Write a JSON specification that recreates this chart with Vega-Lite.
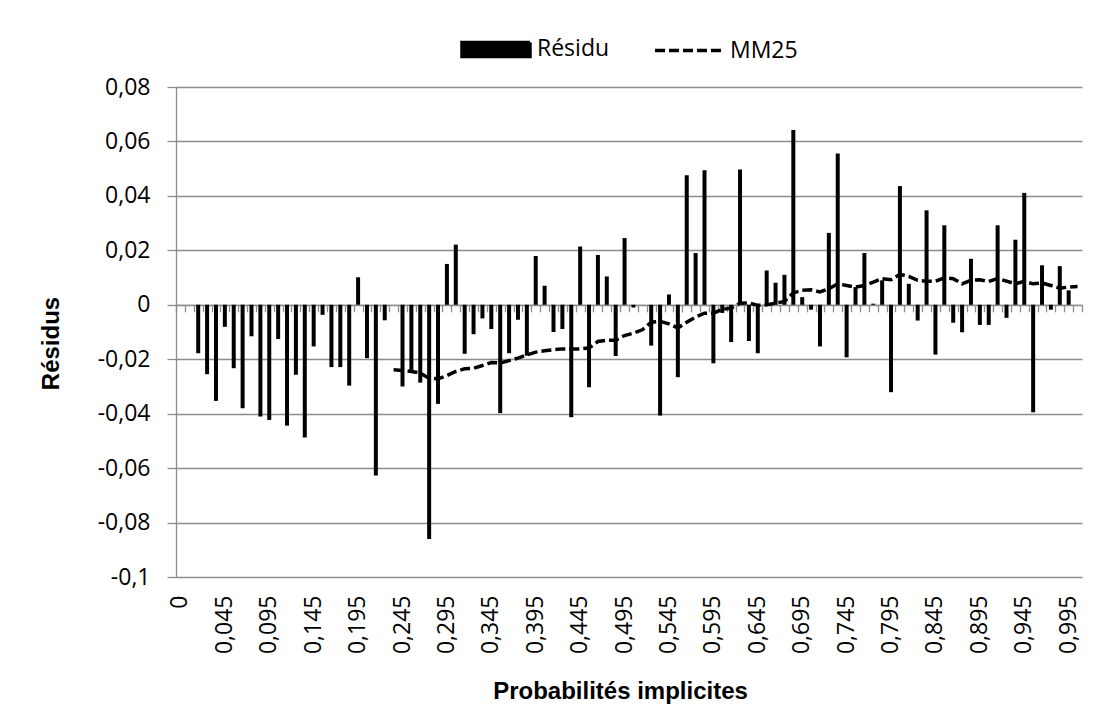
{
  "$schema": "https://vega.github.io/schema/vega-lite/v6.json",
  "width": 906,
  "height": 490,
  "autosize": {"type": "none"},
  "padding": {"left": 176, "top": 87, "right": 33, "bottom": 147},
  "background": "white",
  "data": {"values": [
    {"p": "0", "res": 0, "mm": null},
    {"p": "0,005", "res": 0, "mm": null},
    {"p": "0,015", "res": -0.0178, "mm": null},
    {"p": "0,025", "res": -0.0255, "mm": null},
    {"p": "0,035", "res": -0.0353, "mm": null},
    {"p": "0,045", "res": -0.0081, "mm": null},
    {"p": "0,055", "res": -0.0233, "mm": null},
    {"p": "0,065", "res": -0.038, "mm": null},
    {"p": "0,075", "res": -0.0116, "mm": null},
    {"p": "0,085", "res": -0.041, "mm": null},
    {"p": "0,095", "res": -0.0423, "mm": null},
    {"p": "0,105", "res": -0.0126, "mm": null},
    {"p": "0,115", "res": -0.0444, "mm": null},
    {"p": "0,125", "res": -0.0257, "mm": null},
    {"p": "0,135", "res": -0.0488, "mm": null},
    {"p": "0,145", "res": -0.0153, "mm": null},
    {"p": "0,155", "res": -0.0037, "mm": null},
    {"p": "0,165", "res": -0.0229, "mm": null},
    {"p": "0,175", "res": -0.0229, "mm": null},
    {"p": "0,185", "res": -0.0297, "mm": null},
    {"p": "0,195", "res": 0.0101, "mm": null},
    {"p": "0,205", "res": -0.0196, "mm": null},
    {"p": "0,215", "res": -0.0627, "mm": null},
    {"p": "0,225", "res": -0.0057, "mm": null},
    {"p": "0,235", "res": 0, "mm": -0.0239},
    {"p": "0,245", "res": -0.03, "mm": -0.0241},
    {"p": "0,255", "res": -0.0249, "mm": -0.0245},
    {"p": "0,265", "res": -0.0286, "mm": -0.0251},
    {"p": "0,275", "res": -0.086, "mm": -0.027},
    {"p": "0,285", "res": -0.0364, "mm": -0.0272},
    {"p": "0,295", "res": 0.015, "mm": -0.026},
    {"p": "0,305", "res": 0.0221, "mm": -0.0245},
    {"p": "0,315", "res": -0.018, "mm": -0.0235},
    {"p": "0,325", "res": -0.0108, "mm": -0.0233},
    {"p": "0,335", "res": -0.005, "mm": -0.0223},
    {"p": "0,345", "res": -0.0089, "mm": -0.0212},
    {"p": "0,355", "res": -0.0398, "mm": -0.0214},
    {"p": "0,365", "res": -0.0178, "mm": -0.0205},
    {"p": "0,375", "res": -0.0055, "mm": -0.0196},
    {"p": "0,385", "res": -0.0187, "mm": -0.0184},
    {"p": "0,395", "res": 0.0179, "mm": -0.0174},
    {"p": "0,405", "res": 0.007, "mm": -0.0169},
    {"p": "0,415", "res": -0.01, "mm": -0.0165},
    {"p": "0,425", "res": -0.0089, "mm": -0.0162},
    {"p": "0,435", "res": -0.0413, "mm": -0.0162},
    {"p": "0,445", "res": 0.0214, "mm": -0.0162},
    {"p": "0,455", "res": -0.0303, "mm": -0.0159},
    {"p": "0,465", "res": 0.0183, "mm": -0.0135},
    {"p": "0,475", "res": 0.0104, "mm": -0.013},
    {"p": "0,485", "res": -0.0188, "mm": -0.013},
    {"p": "0,495", "res": 0.0245, "mm": -0.0113},
    {"p": "0,505", "res": -0.001, "mm": -0.0104},
    {"p": "0,515", "res": 0, "mm": -0.0092},
    {"p": "0,525", "res": -0.015, "mm": -0.0064},
    {"p": "0,535", "res": -0.0407, "mm": -0.0061},
    {"p": "0,545", "res": 0.0038, "mm": -0.007},
    {"p": "0,555", "res": -0.0266, "mm": -0.0085},
    {"p": "0,565", "res": 0.0476, "mm": -0.0064},
    {"p": "0,575", "res": 0.019, "mm": -0.0045},
    {"p": "0,585", "res": 0.0494, "mm": -0.0031},
    {"p": "0,595", "res": -0.0215, "mm": -0.0031},
    {"p": "0,605", "res": -0.003, "mm": -0.0017},
    {"p": "0,615", "res": -0.0137, "mm": -0.0012},
    {"p": "0,625", "res": 0.0497, "mm": 0.0006},
    {"p": "0,635", "res": -0.0133, "mm": 0.0007},
    {"p": "0,645", "res": -0.0178, "mm": -0.0002},
    {"p": "0,655", "res": 0.0126, "mm": 0.0},
    {"p": "0,665", "res": 0.0081, "mm": 0.0006},
    {"p": "0,675", "res": 0.011, "mm": 0.0012},
    {"p": "0,685", "res": 0.0642, "mm": 0.0044},
    {"p": "0,695", "res": 0.0028, "mm": 0.0053},
    {"p": "0,705", "res": -0.0018, "mm": 0.0055},
    {"p": "0,715", "res": -0.0153, "mm": 0.0047},
    {"p": "0,725", "res": 0.0264, "mm": 0.0059},
    {"p": "0,735", "res": 0.0556, "mm": 0.0077},
    {"p": "0,745", "res": -0.0193, "mm": 0.0071},
    {"p": "0,755", "res": 0.0065, "mm": 0.0065},
    {"p": "0,765", "res": 0.019, "mm": 0.0071},
    {"p": "0,775", "res": 0.0004, "mm": 0.0083},
    {"p": "0,785", "res": 0.009, "mm": 0.0096},
    {"p": "0,795", "res": -0.0321, "mm": 0.0092},
    {"p": "0,805", "res": 0.0436, "mm": 0.0112},
    {"p": "0,815", "res": 0.0077, "mm": 0.0104},
    {"p": "0,825", "res": -0.0058, "mm": 0.009},
    {"p": "0,835", "res": 0.0347, "mm": 0.0086},
    {"p": "0,845", "res": -0.0183, "mm": 0.0086},
    {"p": "0,855", "res": 0.0292, "mm": 0.0099},
    {"p": "0,865", "res": -0.0066, "mm": 0.0096},
    {"p": "0,875", "res": -0.0101, "mm": 0.0077},
    {"p": "0,885", "res": 0.0169, "mm": 0.009},
    {"p": "0,895", "res": -0.0074, "mm": 0.0092},
    {"p": "0,905", "res": -0.0074, "mm": 0.0086},
    {"p": "0,915", "res": 0.0292, "mm": 0.0096},
    {"p": "0,925", "res": -0.0048, "mm": 0.0087},
    {"p": "0,935", "res": 0.0239, "mm": 0.0077},
    {"p": "0,945", "res": 0.0411, "mm": 0.0086},
    {"p": "0,955", "res": -0.0395, "mm": 0.0077},
    {"p": "0,965", "res": 0.0145, "mm": 0.008},
    {"p": "0,975", "res": -0.0018, "mm": 0.0071},
    {"p": "0,985", "res": 0.0142, "mm": 0.0061},
    {"p": "0,995", "res": 0.0053, "mm": 0.0065},
    {"p": "1", "res": 0, "mm": 0.0067}
  ]},
  "config": {
    "view": {"stroke": null},
    "axis": {
      "labelFont": "Open Sans",
      "labelFontSize": 23,
      "labelColor": "#000000",
      "titleFont": "Liberation Sans",
      "titleFontSize": 24,
      "titleFontWeight": "bold",
      "titleColor": "#000000",
      "domainColor": "#8c8c8c",
      "tickColor": "#8c8c8c",
      "gridColor": "#8c8c8c",
      "domainWidth": 1.3,
      "tickWidth": 1.3,
      "gridWidth": 1.3
    }
  },
  "resolve": {"axis": {"x": "independent"}},
  "layer": [
    {
      "mark": {"type": "bar", "width": {"band": 0.45}},
      "encoding": {
        "x": {
          "field": "p", "type": "nominal", "sort": null,
          "scale": {"paddingInner": 0, "paddingOuter": 0},
          "title": "Probabilités implicites",
          "axis": {
            "values": ["0","0,045","0,095","0,145","0,195","0,245","0,295","0,345","0,395","0,445","0,495","0,545","0,595","0,645","0,695","0,745","0,795","0,845","0,895","0,945","0,995"],
            "labelAngle": -90, "ticks": false, "tickSize": 0, "domain": false, "grid": false,
            "labelPadding": 18, "titlePadding": 26, "titleX": 444
          }
        },
        "y": {
          "field": "res", "type": "quantitative",
          "scale": {"domain": [-0.1, 0.08], "nice": false},
          "title": "Résidus",
          "axis": {
            "values": [-0.1, -0.08, -0.06, -0.04, -0.02, 0, 0.02, 0.04, 0.06, 0.08],
            "labelExpr": "replace('' + datum.value, '.', ',')",
            "grid": true, "tickSize": 9, "labelPadding": 17, "titlePadding": 34, "titleY": 256
          }
        },
        "color": {
          "datum": "Résidu", "type": "nominal",
          "scale": {"domain": ["Résidu", "MM25"], "range": ["black", "black"]},
          "legend": {
            "title": null,
            "orient": "none", "legendX": 284, "legendY": -74, "direction": "horizontal",
            "labelFont": "Open Sans", "labelFontSize": 23, "labelColor": "#000000",
            "labelOffset": 5, "columnPadding": 38, "symbolSize": 4624, "symbolStrokeWidth": 3.5, "padding": 0,
            "encode": {
              "symbols": {
                "update": {
                  "shape": {"signal": "datum.value === 'Résidu' ? 'M-1,-0.206H1V0.206H-1Z' : 'M-1,0H1'"},
                  "fill": {"signal": "datum.value === 'Résidu' ? 'black' : 'transparent'"},
                  "stroke": {"signal": "datum.value === 'Résidu' ? 'transparent' : 'black'"},
                  "strokeWidth": {"value": 3.5},
                  "strokeDash": {"signal": "datum.value === 'Résidu' ? [1, 0] : [10, 4]"},
                  "size": {"value": 4624},
                  "opacity": {"value": 1}
                }
              }
            }
          }
        }
      }
    },
    {
      "mark": {"type": "line", "strokeWidth": 3.5, "strokeDash": [10, 4]},
      "encoding": {
        "x": {
          "field": "p", "type": "nominal", "sort": null, "title": null,
          "axis": {
            "orient": "bottom", "offset": -272.2, "labels": false, "ticks": true,
            "tickBand": "extent", "tickSize": 7, "domain": true, "grid": false
          }
        },
        "y": {"field": "mm", "type": "quantitative", "title": "Résidus"},
        "color": {"datum": "MM25", "type": "nominal"}
      }
    }
  ]
}
